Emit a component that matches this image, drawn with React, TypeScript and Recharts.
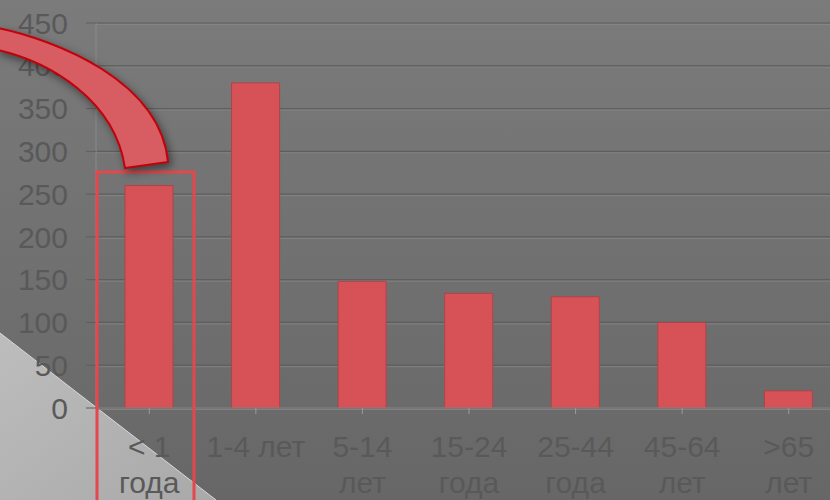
import React from 'react';
import { BarChart, Bar, XAxis, YAxis, CartesianGrid } from 'recharts';

const categories = ['< 1\nгода', '1-4 лет', '5-14\nлет', '15-24\nгода', '25-44\nгода', '45-64\nлет', '>65\nлет'];
const cases = [260, 380, 148, 134, 130, 100, 20];
const yTicks = [0, 50, 100, 150, 200, 250, 300, 350, 400, 450];

const data = categories.map((name, i) => ({ name, value: cases[i] }));

const FONT = '"Liberation Sans", Arial, sans-serif';
const TEXT = '#595959';

const XTick = ({ x, y, payload }: any) => {
  const lines = String(payload.value).split('\n');
  return (
    <text x={x} y={y} textAnchor="middle" fill={TEXT} fontSize={30} fontFamily={FONT}>
      {lines.map((l, i) => (
        <tspan key={i} x={x} dy={i === 0 ? 43 : 36}>
          {l}
        </tspan>
      ))}
    </text>
  );
};

const gridLine = (props: any) => {
  const { x1, x2, y1, index } = props;
  return (
    <g key={`gl-${index}-${y1}`}>
      <line x1={x1} x2={x2} y1={y1} y2={y1} stroke="#5e5e5e" strokeWidth={1.2} />
      <line x1={x1} x2={x2} y1={y1 + 1.5} y2={y1 + 1.5} stroke="#868686" strokeWidth={0.8} />
    </g>
  );
};

export default function App() {
  return (
    <div
      style={{
        position: 'fixed',
        left: 0,
        top: 0,
        width: 830,
        height: 500,
        overflow: 'hidden',
        background: 'linear-gradient(180deg, #7b7b7b 0%, #727272 45%, #676767 100%)',
      }}
    >
      <svg width={830} height={500} style={{ position: 'absolute', left: 0, top: 0 }}>
        <defs>
          <linearGradient id="tri" x1="0" y1="0" x2="1" y2="1">
            <stop offset="0%" stopColor="#bdbdbd" />
            <stop offset="100%" stopColor="#a9a9a9" />
          </linearGradient>
        </defs>
        <polygon points="0,333 216,500 0,500" fill="url(#tri)" />
        <line x1={0} y1={333} x2={216} y2={500} stroke="#d8d8d8" strokeWidth={1} />
      </svg>
      <div style={{ position: 'absolute', left: 0, top: 0 }}>
        <BarChart width={847} height={500} data={data} margin={{ top: 23, right: 5, bottom: 0, left: 0 }}>
          <CartesianGrid vertical={false} horizontal={gridLine} />
          <XAxis
            dataKey="name"
            height={92}
            interval={0}
            tick={<XTick />}
            tickSize={6}
            tickMargin={0}
            axisLine={{ stroke: '#8a8a8a' }}
            tickLine={{ stroke: '#9a9a9a' }}
          />
          <YAxis
            width={96}
            domain={[0, 450]}
            ticks={yTicks}
            interval={0}
            tickSize={10}
            tickMargin={18}
            axisLine={{ stroke: '#8a8a8a' }}
            tickLine={{ stroke: '#5e5e5e' }}
            tick={{ fill: TEXT, fontSize: 30, fontFamily: FONT }}
          />
          <Bar dataKey="value" fill="#d65257" stroke="#b0444a" strokeWidth={1} barSize={48} isAnimationActive={false} />
        </BarChart>
      </div>
      <svg
        width={830}
        height={500}
        style={{ position: 'absolute', left: 0, top: 0, pointerEvents: 'none' }}
      >
        <rect x={97} y={172} width={97} height={340} fill="none" stroke="#e5474c" strokeWidth={3} />
        <path
          d="M -2 28 C 55 40 160 80 168 162 L 125 168 C 115 100 50 62 -2 50 Z"
          fill="#d75d63"
          stroke="#c4000a"
          strokeWidth={2}
          style={{ filter: 'drop-shadow(3px 4px 4px rgba(0,0,0,0.45))' }}
        />
      </svg>
    </div>
  );
}
